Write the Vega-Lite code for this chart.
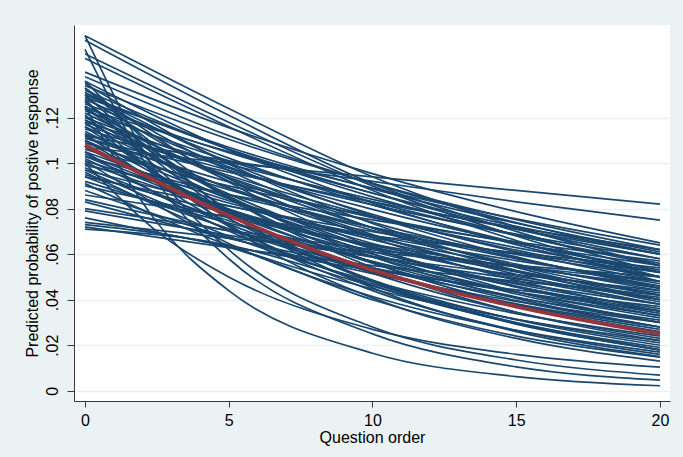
{
  "$schema": "https://vega.github.io/schema/vega-lite/v6.json",
  "width": 596,
  "height": 376,
  "autosize": {"type": "none"},
  "padding": {"left": 74, "top": 25, "right": 13, "bottom": 56},
  "background": "#EAF2F3",
  "view": {"fill": "white", "stroke": null},
  "config": {"font": "Liberation Sans"},
  "datasets": {
    "mean": [
      {"x": 0, "p": 0.108}, {"x": 5, "p": 0.077}, {"x": 10, "p": 0.053}, {"x": 15, "p": 0.037}, {"x": 20, "p": 0.025}
    ],
    "lines": [
      {"g":1,"x":0,"p":0.156},{"g":1,"x":5,"p":0.124},{"g":1,"x":10,"p":0.094},{"g":1,"x":15,"p":0.072},{"g":1,"x":20,"p":0.055},
      {"g":2,"x":0,"p":0.154},{"g":2,"x":5,"p":0.121},{"g":2,"x":10,"p":0.091},{"g":2,"x":15,"p":0.070},{"g":2,"x":20,"p":0.052},
      {"g":3,"x":0,"p":0.148},{"g":3,"x":5,"p":0.118},{"g":3,"x":10,"p":0.090},{"g":3,"x":15,"p":0.068},{"g":3,"x":20,"p":0.050},
      {"g":4,"x":0,"p":0.146},{"g":4,"x":5,"p":0.116},{"g":4,"x":10,"p":0.088},{"g":4,"x":15,"p":0.066},{"g":4,"x":20,"p":0.048},
      {"g":5,"x":0,"p":0.125},{"g":5,"x":2.5,"p":0.074},{"g":5,"x":5,"p":0.044},{"g":5,"x":10,"p":0.0165},{"g":5,"x":15,"p":0.0062},{"g":5,"x":20,"p":0.0022},
      {"g":6,"x":0,"p":0.150},{"g":6,"x":2.5,"p":0.092},{"g":6,"x":5,"p":0.058},{"g":6,"x":10,"p":0.025},{"g":6,"x":15,"p":0.0105},{"g":6,"x":20,"p":0.0047},
      {"g":7,"x":0,"p":0.156},{"g":7,"x":2.5,"p":0.096},{"g":7,"x":5,"p":0.062},{"g":7,"x":10,"p":0.028},{"g":7,"x":15,"p":0.0135},{"g":7,"x":20,"p":0.0069},
      {"g":8,"x":0,"p":0.100},{"g":8,"x":2.5,"p":0.070},{"g":8,"x":5,"p":0.050},{"g":8,"x":10,"p":0.027},{"g":8,"x":15,"p":0.016},{"g":8,"x":20,"p":0.0104},
      {"g":9,"x":0,"p":0.073},{"g":9,"x":5,"p":0.063},{"g":9,"x":10,"p":0.040},{"g":9,"x":15,"p":0.024},{"g":9,"x":20,"p":0.0148},
      {"g":10,"x":0,"p":0.071},{"g":10,"x":5,"p":0.064},{"g":10,"x":10,"p":0.046},{"g":10,"x":15,"p":0.030},{"g":10,"x":20,"p":0.018},
      {"g":11,"x":0,"p":0.107},{"g":11,"x":5,"p":0.100},{"g":11,"x":10,"p":0.094},{"g":11,"x":15,"p":0.088},{"g":11,"x":20,"p":0.082},
      {"g":12,"x":0,"p":0.112},{"g":12,"x":5,"p":0.101},{"g":12,"x":10,"p":0.092},{"g":12,"x":15,"p":0.083},{"g":12,"x":20,"p":0.075},
      {"g":13,"x":0,"p":0.140},{"g":13,"x":5,"p":0.1156},{"g":13,"x":10,"p":0.0954},{"g":13,"x":15,"p":0.0787},{"g":13,"x":20,"p":0.065},
      {"g":14,"x":0,"p":0.138},{"g":14,"x":5,"p":0.1121},{"g":14,"x":10,"p":0.0910},{"g":14,"x":15,"p":0.0739},{"g":14,"x":20,"p":0.060},
      {"g":15,"x":0,"p":0.136},{"g":15,"x":5,"p":0.1059},{"g":15,"x":10,"p":0.0825},{"g":15,"x":15,"p":0.0642},{"g":15,"x":20,"p":0.050},
      {"g":16,"x":0,"p":0.135},{"g":16,"x":5,"p":0.0996},{"g":16,"x":10,"p":0.0735},{"g":16,"x":15,"p":0.0542},{"g":16,"x":20,"p":0.040},
      {"g":17,"x":0,"p":0.134},{"g":17,"x":5,"p":0.1105},{"g":17,"x":10,"p":0.0911},{"g":17,"x":15,"p":0.0752},{"g":17,"x":20,"p":0.062},
      {"g":18,"x":0,"p":0.133},{"g":18,"x":5,"p":0.0917},{"g":18,"x":10,"p":0.0632},{"g":18,"x":15,"p":0.0435},{"g":18,"x":20,"p":0.030},
      {"g":19,"x":0,"p":0.132},{"g":19,"x":5,"p":0.1060},{"g":19,"x":10,"p":0.0852},{"g":19,"x":15,"p":0.0685},{"g":19,"x":20,"p":0.055},
      {"g":20,"x":0,"p":0.131},{"g":20,"x":5,"p":0.1003},{"g":20,"x":10,"p":0.0768},{"g":20,"x":15,"p":0.0588},{"g":20,"x":20,"p":0.045},
      {"g":21,"x":0,"p":0.130},{"g":21,"x":5,"p":0.1062},{"g":21,"x":10,"p":0.0868},{"g":21,"x":15,"p":0.0710},{"g":21,"x":20,"p":0.058},
      {"g":22,"x":0,"p":0.129},{"g":22,"x":5,"p":0.0931},{"g":22,"x":10,"p":0.0672},{"g":22,"x":15,"p":0.0485},{"g":22,"x":20,"p":0.035},
      {"g":23,"x":0,"p":0.128},{"g":23,"x":5,"p":0.1022},{"g":23,"x":10,"p":0.0816},{"g":23,"x":15,"p":0.0651},{"g":23,"x":20,"p":0.052},
      {"g":24,"x":0,"p":0.127},{"g":24,"x":5,"p":0.0846},{"g":24,"x":10,"p":0.0563},{"g":24,"x":15,"p":0.0375},{"g":24,"x":20,"p":0.025},
      {"g":25,"x":0,"p":0.126},{"g":25,"x":5,"p":0.1046},{"g":25,"x":10,"p":0.0869},{"g":25,"x":15,"p":0.0722},{"g":25,"x":20,"p":0.060},
      {"g":26,"x":0,"p":0.125},{"g":26,"x":5,"p":0.0984},{"g":26,"x":10,"p":0.0775},{"g":26,"x":15,"p":0.0610},{"g":26,"x":20,"p":0.048},
      {"g":27,"x":0,"p":0.124},{"g":27,"x":5,"p":0.0922},{"g":27,"x":10,"p":0.0686},{"g":27,"x":15,"p":0.0511},{"g":27,"x":20,"p":0.038},
      {"g":28,"x":0,"p":0.123},{"g":28,"x":5,"p":0.1010},{"g":28,"x":10,"p":0.0830},{"g":28,"x":15,"p":0.0682},{"g":28,"x":20,"p":0.056},
      {"g":29,"x":0,"p":0.122},{"g":29,"x":5,"p":0.0935},{"g":29,"x":10,"p":0.0716},{"g":29,"x":15,"p":0.0548},{"g":29,"x":20,"p":0.042},
      {"g":30,"x":0,"p":0.121},{"g":30,"x":5,"p":0.0853},{"g":30,"x":10,"p":0.0602},{"g":30,"x":15,"p":0.0425},{"g":30,"x":20,"p":0.030},
      {"g":31,"x":0,"p":0.120},{"g":31,"x":5,"p":0.0978},{"g":31,"x":10,"p":0.0797},{"g":31,"x":15,"p":0.0650},{"g":31,"x":20,"p":0.053},
      {"g":32,"x":0,"p":0.119},{"g":32,"x":5,"p":0.0938},{"g":32,"x":10,"p":0.0740},{"g":32,"x":15,"p":0.0583},{"g":32,"x":20,"p":0.046},
      {"g":33,"x":0,"p":0.118},{"g":33,"x":5,"p":0.0757},{"g":33,"x":10,"p":0.0486},{"g":33,"x":15,"p":0.0312},{"g":33,"x":20,"p":0.020},
      {"g":34,"x":0,"p":0.117},{"g":34,"x":5,"p":0.0946},{"g":34,"x":10,"p":0.0765},{"g":34,"x":15,"p":0.0618},{"g":34,"x":20,"p":0.050},
      {"g":35,"x":0,"p":0.116},{"g":35,"x":5,"p":0.0889},{"g":35,"x":10,"p":0.0681},{"g":35,"x":15,"p":0.0522},{"g":35,"x":20,"p":0.040},
      {"g":36,"x":0,"p":0.115},{"g":36,"x":5,"p":0.0969},{"g":36,"x":10,"p":0.0817},{"g":36,"x":15,"p":0.0688},{"g":36,"x":20,"p":0.058},
      {"g":37,"x":0,"p":0.114},{"g":37,"x":5,"p":0.0843},{"g":37,"x":10,"p":0.0623},{"g":37,"x":15,"p":0.0460},{"g":37,"x":20,"p":0.034},
      {"g":38,"x":0,"p":0.113},{"g":38,"x":5,"p":0.0893},{"g":38,"x":10,"p":0.0705},{"g":38,"x":15,"p":0.0557},{"g":38,"x":20,"p":0.044},
      {"g":39,"x":0,"p":0.112},{"g":39,"x":5,"p":0.0792},{"g":39,"x":10,"p":0.0560},{"g":39,"x":15,"p":0.0396},{"g":39,"x":20,"p":0.028},
      {"g":40,"x":0,"p":0.111},{"g":40,"x":5,"p":0.0918},{"g":40,"x":10,"p":0.0760},{"g":40,"x":15,"p":0.0629},{"g":40,"x":20,"p":0.052},
      {"g":41,"x":0,"p":0.110},{"g":41,"x":5,"p":0.0844},{"g":41,"x":10,"p":0.0647},{"g":41,"x":15,"p":0.0496},{"g":41,"x":20,"p":0.038},
      {"g":42,"x":0,"p":0.109},{"g":42,"x":5,"p":0.0883},{"g":42,"x":10,"p":0.0716},{"g":42,"x":15,"p":0.0580},{"g":42,"x":20,"p":0.047},
      {"g":43,"x":0,"p":0.108},{"g":43,"x":5,"p":0.0797},{"g":43,"x":10,"p":0.0588},{"g":43,"x":15,"p":0.0434},{"g":43,"x":20,"p":0.032},
      {"g":44,"x":0,"p":0.106},{"g":44,"x":5,"p":0.0900},{"g":44,"x":10,"p":0.0764},{"g":44,"x":15,"p":0.0648},{"g":44,"x":20,"p":0.055},
      {"g":45,"x":0,"p":0.105},{"g":45,"x":5,"p":0.0835},{"g":45,"x":10,"p":0.0664},{"g":45,"x":15,"p":0.0528},{"g":45,"x":20,"p":0.042},
      {"g":46,"x":0,"p":0.104},{"g":46,"x":5,"p":0.0798},{"g":46,"x":10,"p":0.0612},{"g":46,"x":15,"p":0.0469},{"g":46,"x":20,"p":0.036},
      {"g":47,"x":0,"p":0.103},{"g":47,"x":5,"p":0.0860},{"g":47,"x":10,"p":0.0718},{"g":47,"x":15,"p":0.0599},{"g":47,"x":20,"p":0.050},
      {"g":48,"x":0,"p":0.102},{"g":48,"x":5,"p":0.0732},{"g":48,"x":10,"p":0.0525},{"g":48,"x":15,"p":0.0377},{"g":48,"x":20,"p":0.027},
      {"g":49,"x":0,"p":0.101},{"g":49,"x":5,"p":0.0825},{"g":49,"x":10,"p":0.0674},{"g":49,"x":15,"p":0.0551},{"g":49,"x":20,"p":0.045},
      {"g":50,"x":0,"p":0.100},{"g":50,"x":5,"p":0.0795},{"g":50,"x":10,"p":0.0632},{"g":50,"x":15,"p":0.0503},{"g":50,"x":20,"p":0.040},
      {"g":51,"x":0,"p":0.099},{"g":51,"x":5,"p":0.0862},{"g":51,"x":10,"p":0.0751},{"g":51,"x":15,"p":0.0654},{"g":51,"x":20,"p":0.057},
      {"g":52,"x":0,"p":0.098},{"g":52,"x":5,"p":0.0747},{"g":52,"x":10,"p":0.0569},{"g":52,"x":15,"p":0.0433},{"g":52,"x":20,"p":0.033},
      {"g":53,"x":0,"p":0.097},{"g":53,"x":5,"p":0.0813},{"g":53,"x":10,"p":0.0682},{"g":53,"x":15,"p":0.0572},{"g":53,"x":20,"p":0.048},
      {"g":54,"x":0,"p":0.096},{"g":54,"x":5,"p":0.0679},{"g":54,"x":10,"p":0.0480},{"g":54,"x":15,"p":0.0339},{"g":54,"x":20,"p":0.024},
      {"g":55,"x":0,"p":0.095},{"g":55,"x":5,"p":0.0779},{"g":55,"x":10,"p":0.0639},{"g":55,"x":15,"p":0.0524},{"g":55,"x":20,"p":0.043},
      {"g":56,"x":0,"p":0.094},{"g":56,"x":5,"p":0.0811},{"g":56,"x":10,"p":0.0699},{"g":56,"x":15,"p":0.0603},{"g":56,"x":20,"p":0.052},
      {"g":57,"x":0,"p":0.092},{"g":57,"x":5,"p":0.0737},{"g":57,"x":10,"p":0.0591},{"g":57,"x":15,"p":0.0474},{"g":57,"x":20,"p":0.038},
      {"g":58,"x":0,"p":0.090},{"g":58,"x":5,"p":0.0761},{"g":58,"x":10,"p":0.0643},{"g":58,"x":15,"p":0.0544},{"g":58,"x":20,"p":0.046},
      {"g":59,"x":0,"p":0.088},{"g":59,"x":5,"p":0.0673},{"g":59,"x":10,"p":0.0514},{"g":59,"x":15,"p":0.0393},{"g":59,"x":20,"p":0.030},
      {"g":60,"x":0,"p":0.086},{"g":60,"x":5,"p":0.0765},{"g":60,"x":10,"p":0.0681},{"g":60,"x":15,"p":0.0606},{"g":60,"x":20,"p":0.054},
      {"g":61,"x":0,"p":0.084},{"g":61,"x":5,"p":0.0702},{"g":61,"x":10,"p":0.0587},{"g":61,"x":15,"p":0.0491},{"g":61,"x":20,"p":0.041},
      {"g":62,"x":0,"p":0.083},{"g":62,"x":5,"p":0.0669},{"g":62,"x":10,"p":0.0539},{"g":62,"x":15,"p":0.0434},{"g":62,"x":20,"p":0.035},
      {"g":63,"x":0,"p":0.080},{"g":63,"x":5,"p":0.0704},{"g":63,"x":10,"p":0.0620},{"g":63,"x":15,"p":0.0546},{"g":63,"x":20,"p":0.048},
      {"g":64,"x":0,"p":0.079},{"g":64,"x":5,"p":0.0683},{"g":64,"x":10,"p":0.0590},{"g":64,"x":15,"p":0.0510},{"g":64,"x":20,"p":0.044},
      {"g":65,"x":0,"p":0.076},{"g":65,"x":5,"p":0.0635},{"g":65,"x":10,"p":0.0530},{"g":65,"x":15,"p":0.0443},{"g":65,"x":20,"p":0.037},
      {"g":66,"x":0,"p":0.074},{"g":66,"x":5,"p":0.0671},{"g":66,"x":10,"p":0.0608},{"g":66,"x":15,"p":0.0551},{"g":66,"x":20,"p":0.050},
      {"g":67,"x":0,"p":0.072},{"g":67,"x":5,"p":0.0629},{"g":67,"x":10,"p":0.0550},{"g":67,"x":15,"p":0.0481},{"g":67,"x":20,"p":0.042},
      {"g":68,"x":0,"p":0.136},{"g":68,"x":5,"p":0.0784},{"g":68,"x":10,"p":0.0452},{"g":68,"x":15,"p":0.0260},{"g":68,"x":20,"p":0.015},
      {"g":69,"x":0,"p":0.128},{"g":69,"x":5,"p":0.0723},{"g":69,"x":10,"p":0.0408},{"g":69,"x":15,"p":0.0230},{"g":69,"x":20,"p":0.013},
      {"g":70,"x":0,"p":0.130},{"g":70,"x":5,"p":0.0793},{"g":70,"x":10,"p":0.0484},{"g":70,"x":15,"p":0.0295},{"g":70,"x":20,"p":0.018},
      {"g":71,"x":0,"p":0.133},{"g":71,"x":5,"p":0.0848},{"g":71,"x":10,"p":0.0541},{"g":71,"x":15,"p":0.0345},{"g":71,"x":20,"p":0.022},
      {"g":72,"x":0,"p":0.127},{"g":72,"x":5,"p":0.0779},{"g":72,"x":10,"p":0.0478},{"g":72,"x":15,"p":0.0293},{"g":72,"x":20,"p":0.018},
      {"g":73,"x":0,"p":0.124},{"g":73,"x":5,"p":0.0855},{"g":73,"x":10,"p":0.0589},{"g":73,"x":15,"p":0.0406},{"g":73,"x":20,"p":0.028},
      {"g":74,"x":0,"p":0.121},{"g":74,"x":5,"p":0.0730},{"g":74,"x":10,"p":0.0440},{"g":74,"x":15,"p":0.0265},{"g":74,"x":20,"p":0.016},
      {"g":75,"x":0,"p":0.119},{"g":75,"x":5,"p":0.0864},{"g":75,"x":10,"p":0.0627},{"g":75,"x":15,"p":0.0455},{"g":75,"x":20,"p":0.033},
      {"g":76,"x":0,"p":0.116},{"g":76,"x":5,"p":0.0774},{"g":76,"x":10,"p":0.0517},{"g":76,"x":15,"p":0.0345},{"g":76,"x":20,"p":0.023},
      {"g":77,"x":0,"p":0.113},{"g":77,"x":5,"p":0.0723},{"g":77,"x":10,"p":0.0463},{"g":77,"x":15,"p":0.0297},{"g":77,"x":20,"p":0.019},
      {"g":78,"x":0,"p":0.110},{"g":78,"x":5,"p":0.0767},{"g":78,"x":10,"p":0.0535},{"g":78,"x":15,"p":0.0373},{"g":78,"x":20,"p":0.026},
      {"g":79,"x":0,"p":0.107},{"g":79,"x":5,"p":0.0779},{"g":79,"x":10,"p":0.0567},{"g":79,"x":15,"p":0.0412},{"g":79,"x":20,"p":0.030},
      {"g":80,"x":0,"p":0.105},{"g":80,"x":5,"p":0.0702},{"g":80,"x":10,"p":0.0470},{"g":80,"x":15,"p":0.0314},{"g":80,"x":20,"p":0.021},
      {"g":81,"x":0,"p":0.103},{"g":81,"x":5,"p":0.0786},{"g":81,"x":10,"p":0.0600},{"g":81,"x":15,"p":0.0458},{"g":81,"x":20,"p":0.035},
      {"g":82,"x":0,"p":0.101},{"g":82,"x":5,"p":0.0647},{"g":82,"x":10,"p":0.0414},{"g":82,"x":15,"p":0.0265},{"g":82,"x":20,"p":0.017},
      {"g":83,"x":0,"p":0.097},{"g":83,"x":5,"p":0.0711},{"g":83,"x":10,"p":0.0521},{"g":83,"x":15,"p":0.0382},{"g":83,"x":20,"p":0.028},
      {"g":84,"x":0,"p":0.094},{"g":84,"x":5,"p":0.0712},{"g":84,"x":10,"p":0.0540},{"g":84,"x":15,"p":0.0409},{"g":84,"x":20,"p":0.031},
      {"g":85,"x":0,"p":0.091},{"g":85,"x":5,"p":0.0638},{"g":85,"x":10,"p":0.0447},{"g":85,"x":15,"p":0.0314},{"g":85,"x":20,"p":0.022},
      {"g":86,"x":0,"p":0.129},{"g":86,"x":5,"p":0.1070},{"g":86,"x":10,"p":0.0887},{"g":86,"x":15,"p":0.0736},{"g":86,"x":20,"p":0.061},
      {"g":87,"x":0,"p":0.124},{"g":87,"x":5,"p":0.1051},{"g":87,"x":10,"p":0.0891},{"g":87,"x":15,"p":0.0755},{"g":87,"x":20,"p":0.064},
      {"g":88,"x":0,"p":0.118},{"g":88,"x":5,"p":0.0996},{"g":88,"x":10,"p":0.0841},{"g":88,"x":15,"p":0.0710},{"g":88,"x":20,"p":0.060},
      {"g":89,"x":0,"p":0.111},{"g":89,"x":5,"p":0.0960},{"g":89,"x":10,"p":0.0830},{"g":89,"x":15,"p":0.0717},{"g":89,"x":20,"p":0.062},
      {"g":90,"x":0,"p":0.131},{"g":90,"x":5,"p":0.0968},{"g":90,"x":10,"p":0.0715},{"g":90,"x":15,"p":0.0528},{"g":90,"x":20,"p":0.039}
    ]
  },
  "encoding": {
    "x": {
      "field": "x", "type": "quantitative",
      "scale": {"domain": [-0.383, 20.35], "nice": false, "zero": false},
      "axis": {
        "title": "Question order", "values": [0, 5, 10, 15, 20], "grid": false,
        "tickSize": 6, "labelPadding": 5, "titlePadding": 1,
        "labelFontSize": 16, "titleFontSize": 16, "titleFontWeight": "normal",
        "labelColor": "#000000", "titleColor": "#000000",
        "domainColor": "#3a3a3a", "tickColor": "#3a3a3a", "labelFlush": false
      }
    },
    "y": {
      "field": "p", "type": "quantitative",
      "scale": {"domain": [-0.0045, 0.1607], "nice": false, "zero": false},
      "axis": {
        "title": "Predicted probability of postive response",
        "values": [0, 0.02, 0.04, 0.06, 0.08, 0.1, 0.12],
        "labelExpr": "datum.value == 0 ? '0' : replace(format(datum.value, '.2~f'), '0.', '.')",
        "labelAngle": -90, "labelAlign": "center", "labelBaseline": "bottom",
        "tickSize": 7, "labelPadding": 7, "titlePadding": 4,
        "grid": true, "gridColor": "#EAF2F3", "gridWidth": 1.5,
        "labelFontSize": 16, "titleFontSize": 16, "titleFontWeight": "normal",
        "labelColor": "#000000", "titleColor": "#000000",
        "domainColor": "#3a3a3a", "tickColor": "#3a3a3a",
        "labelFlush": false, "labelOverlap": false
      }
    }
  },
  "layer": [
    {
      "data": {"name": "lines"},
      "mark": {"type": "line", "interpolate": "monotone", "color": "#1a476f", "strokeWidth": 1.7, "clip": true},
      "encoding": {"detail": {"field": "g", "type": "nominal"}}
    },
    {
      "data": {"name": "mean"},
      "mark": {"type": "line", "interpolate": "monotone", "color": "#96353b", "strokeWidth": 3.8, "clip": true},
      "encoding": {}
    }
  ]
}
